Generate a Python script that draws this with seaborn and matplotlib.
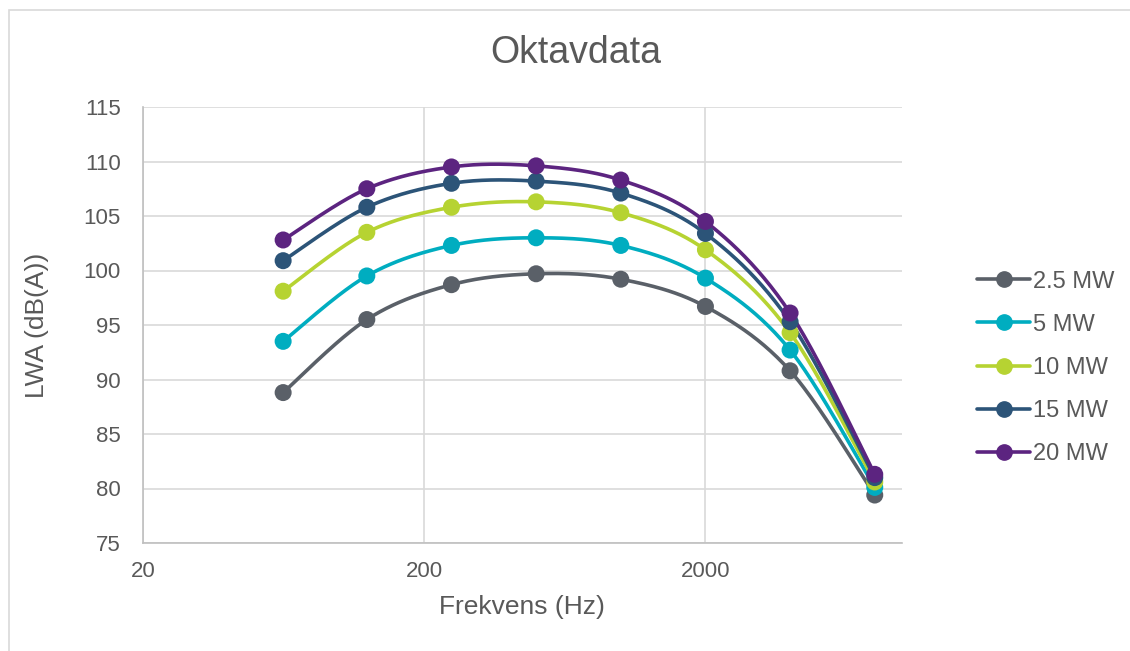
import numpy as np
import pandas as pd
import matplotlib
matplotlib.use("Agg")
import matplotlib.pyplot as plt
from matplotlib.lines import Line2D
from matplotlib.patches import Rectangle
import seaborn as sns

# Octave band centre frequencies (Hz)
frequencies = [63, 125, 250, 500, 1000, 2000, 4000, 8000]

# Sound power level LWA (dB(A)) per turbine size
lwa_2_5mw = [88.8, 95.5, 98.7, 99.7, 99.2, 96.7, 90.8, 79.4]
lwa_5mw = [93.5, 99.5, 102.3, 103.0, 102.3, 99.3, 92.7, 80.1]
lwa_10mw = [98.1, 103.5, 105.8, 106.3, 105.3, 101.9, 94.3, 80.6]
lwa_15mw = [100.9, 105.8, 108.0, 108.2, 107.1, 103.4, 95.3, 81.0]
lwa_20mw = [102.8, 107.5, 109.5, 109.6, 108.3, 104.5, 96.1, 81.3]

series_labels = ["2.5 MW", "5 MW", "10 MW", "15 MW", "20 MW"]
series_values = [lwa_2_5mw, lwa_5mw, lwa_10mw, lwa_15mw, lwa_20mw]
colors = ["#5a6068", "#00adc0", "#b6d332", "#2c5478", "#5c2480"]

x_ticks = [20, 200, 2000]
y_ticks = [75, 80, 85, 90, 95, 100, 105, 110, 115]

records = []
for label, vals in zip(series_labels, series_values):
    for f, v in zip(frequencies, vals):
        records.append({"Frekvens": f, "LWA": v, "Serie": label})
df = pd.DataFrame(records)


def smooth_curve(xs, ys, n=40):
    """Cubic Bezier smoothing through the points (log-x space)."""
    lx = np.log10(np.asarray(xs, float))
    y = np.asarray(ys, float)
    pts = np.column_stack([lx, y])
    out = []
    for i in range(len(pts) - 1):
        p0 = pts[i - 1] if i > 0 else pts[i]
        p1 = pts[i]
        p2 = pts[i + 1]
        p3 = pts[i + 2] if i + 2 < len(pts) else pts[i + 1]
        c1 = p1 + (p2 - p0) / 6.0
        c2 = p2 - (p3 - p1) / 6.0
        t = np.linspace(0, 1, n)[:, None]
        seg = ((1 - t) ** 3) * p1 + 3 * ((1 - t) ** 2) * t * c1 \
            + 3 * (1 - t) * t ** 2 * c2 + t ** 3 * p2
        out.append(seg if i == 0 else seg[1:])
    seg = np.vstack(out)
    return 10 ** seg[:, 0], seg[:, 1]


sns.set_theme(style="white")
plt.rcParams["font.family"] = ["Liberation Sans", "DejaVu Sans"]
text_color = "#595959"

fig = plt.figure(figsize=(11.3, 6.51), dpi=100)
ax = fig.add_axes([143 / 1130, 1 - 543 / 651, (902 - 143) / 1130, (543 - 107) / 651])

# Chart frame
fig.patches.append(Rectangle((9 / 1130, -0.1), 1.2, 1 - 10 / 651 + 0.1,
                             transform=fig.transFigure, fill=False,
                             edgecolor="#d9d9d9", linewidth=1.2, zorder=0))

smooth_rows = []
for label, vals in zip(series_labels, series_values):
    sx, sy = smooth_curve(frequencies, vals)
    smooth_rows.append(pd.DataFrame({"Frekvens": sx, "LWA": sy, "Serie": label}))
smooth_df = pd.concat(smooth_rows, ignore_index=True)

palette = dict(zip(series_labels, colors))
sns.lineplot(data=smooth_df, x="Frekvens", y="LWA", hue="Serie",
             palette=palette, linewidth=2.6, sort=False, estimator=None,
             legend=False, ax=ax, zorder=3)
sns.scatterplot(data=df, x="Frekvens", y="LWA", hue="Serie", palette=palette,
                s=150, edgecolor="none", legend=False, ax=ax, zorder=4)

ax.set_xscale("log")
ax.set_xlim(20, 10000)
ax.set_ylim(75, 115)
ax.set_xticks(x_ticks)
ax.set_xticklabels([str(t) for t in x_ticks])
ax.xaxis.set_minor_locator(matplotlib.ticker.NullLocator())
ax.set_yticks(y_ticks)
ax.set_yticklabels([str(t) for t in y_ticks])
ax.tick_params(axis="both", length=0, labelsize=16, colors=text_color)
ax.tick_params(axis="x", pad=13)
ax.tick_params(axis="y", pad=16)

ax.grid(True, which="major", color="#d9d9d9", linewidth=1.2)
ax.set_axisbelow(True)
for side in ["top", "right"]:
    ax.spines[side].set_visible(False)
for side in ["left", "bottom"]:
    ax.spines[side].set_color("#bfbfbf")
    ax.spines[side].set_linewidth(1.2)

ax.set_xlabel("Frekvens (Hz)", fontsize=19, color=text_color)
ax.set_ylabel("LWA (dB(A))", fontsize=19, color=text_color)
ax.xaxis.label.set_va("center")
ax.yaxis.label.set_va("center")
ax.xaxis.set_label_coords((522 - 143) / 759, -(607 - 543) / 436)
ax.yaxis.set_label_coords(-(143 - 37) / 759, 0.5)
fig.text(576 / 1130, 1 - 53 / 651, "Oktavdata", ha="center", va="center",
         fontsize=27, color=text_color)

handles = [Line2D([0], [0], color=c, linewidth=2.6, marker="o", markersize=11)
           for c in colors]
leg = fig.legend(handles, series_labels, loc="center left",
                 bbox_to_anchor=(956 / 1130, 1 - 368 / 651), frameon=False,
                 fontsize=17, labelcolor=text_color, handlelength=2.25,
                 handletextpad=0.1, labelspacing=0.9)

fig.savefig("out.png", dpi=100)
